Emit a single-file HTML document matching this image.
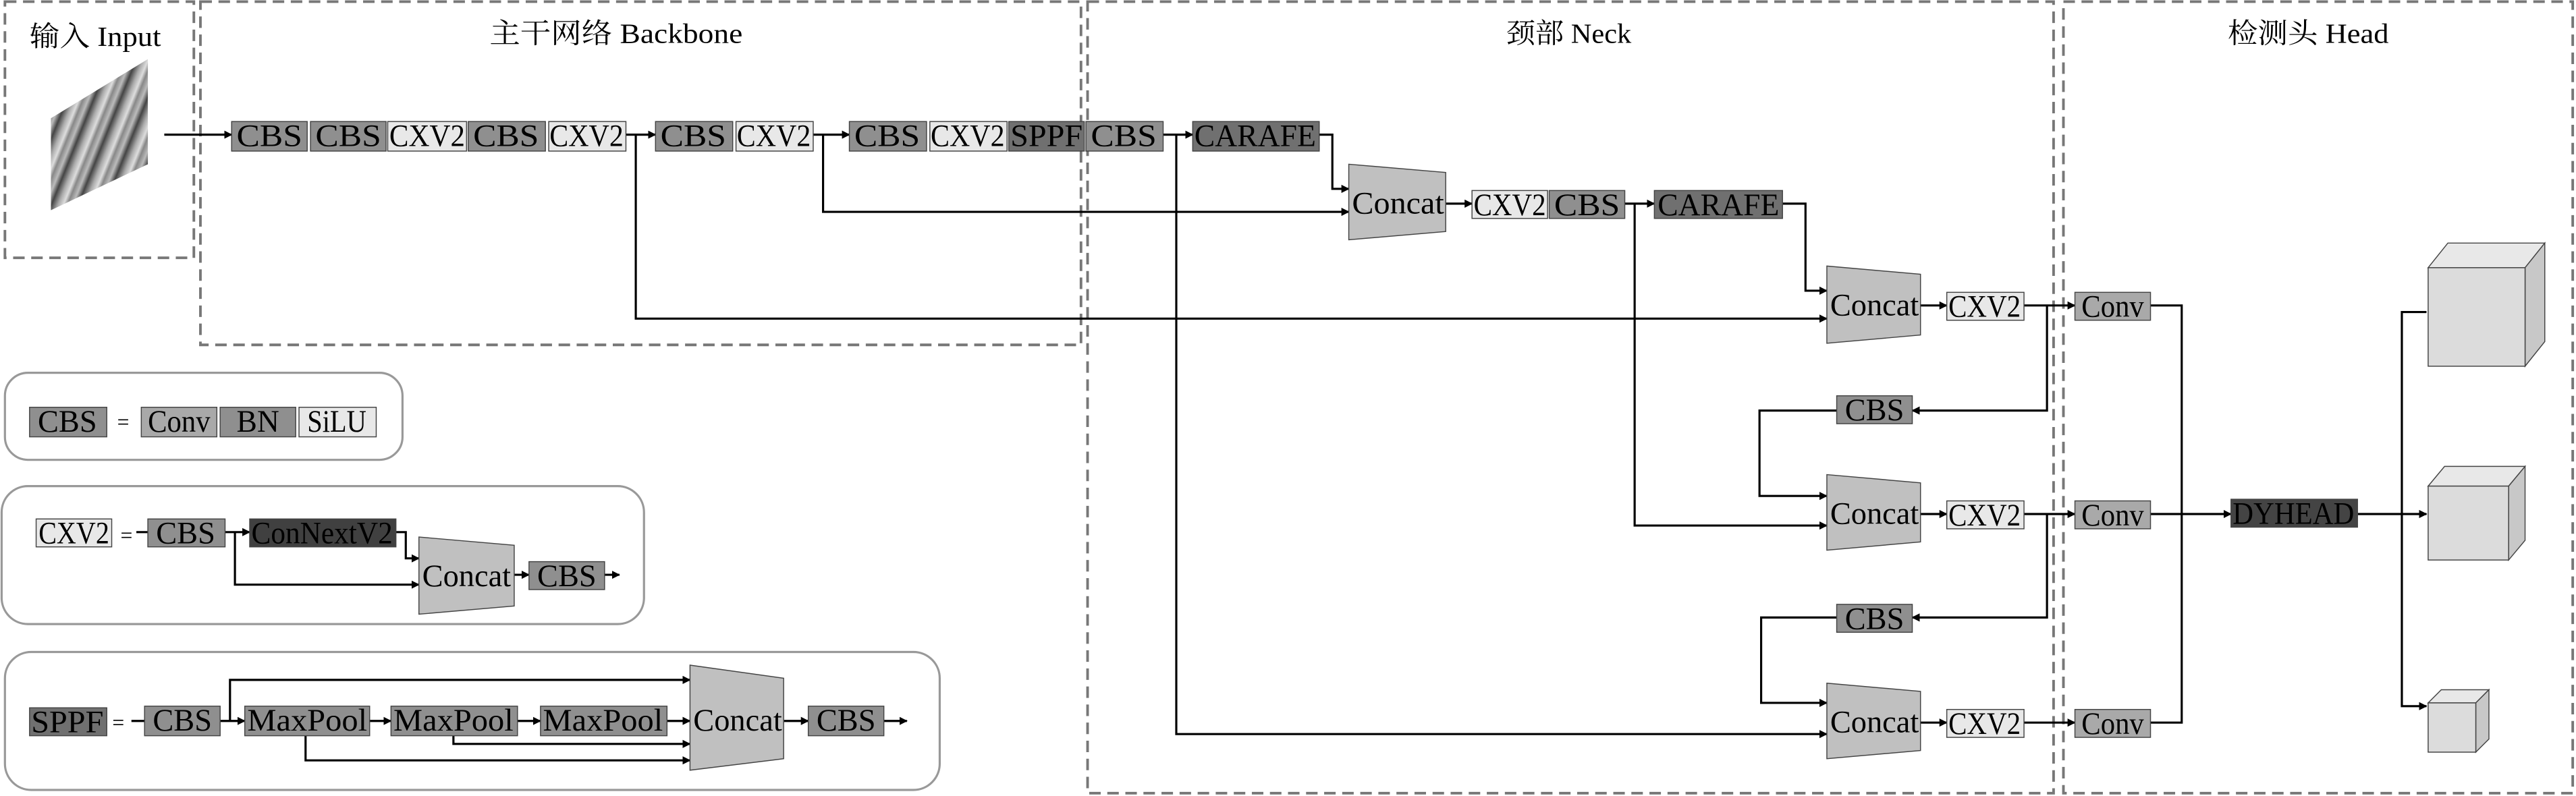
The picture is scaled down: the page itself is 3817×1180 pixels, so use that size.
<!DOCTYPE html>
<html><head><meta charset="utf-8"><style>html,body{margin:0;padding:0;background:#fff}svg{display:block}</style></head>
<body>
<svg width="3817" height="1180" viewBox="0 0 1568 484.7" preserveAspectRatio="none" xmlns="http://www.w3.org/2000/svg" font-family="'Liberation Serif','Noto Serif CJK SC',serif">
<defs>
<marker id="a" viewBox="0 0 10 10" refX="9" refY="5" markerWidth="5" markerHeight="5" orient="auto" markerUnits="userSpaceOnUse"><path d="M0,0L10,5L0,10z" fill="#000"/></marker>
<linearGradient id="tex" x1="0" y1="0" x2="1" y2="0.4" spreadMethod="repeat" gradientUnits="userSpaceOnUse" gradientTransform="scale(14)">
<stop offset="0" stop-color="#444"/><stop offset="0.25" stop-color="#aaa"/><stop offset="0.45" stop-color="#ddd"/><stop offset="0.6" stop-color="#888"/><stop offset="0.8" stop-color="#bbb"/><stop offset="1" stop-color="#444"/></linearGradient>
</defs>
<style>
.d{fill:none;stroke:#777;stroke-width:1.6;stroke-dasharray:7 4}
.l{fill:none;stroke:#000;stroke-width:1.3}
.la{fill:none;stroke:#000;stroke-width:1.3;marker-end:url(#a)}
.b{stroke:#444;stroke-width:0.6}
.t{font-size:19px;text-anchor:middle;dominant-baseline:central}
.h{font-size:17px;text-anchor:middle}
</style>
<rect class="d" x="3" y="1" width="115" height="156"/>
<rect class="d" x="122" y="1" width="536" height="209"/>
<rect class="d" x="662" y="1" width="588" height="482"/>
<rect class="d" x="1256" y="1" width="310" height="482"/>
<text class="h" x="58" y="28" textLength="80" lengthAdjust="spacingAndGlyphs">输入 Input</text>
<text class="h" x="375" y="26" textLength="154" lengthAdjust="spacingAndGlyphs">主干网络  Backbone</text>
<text class="h" x="955" y="26" textLength="76" lengthAdjust="spacingAndGlyphs">颈部 Neck</text>
<text class="h" x="1405" y="26" textLength="98" lengthAdjust="spacingAndGlyphs">检测头 Head</text>
<polygon points="31,72 90,36 90,100 31,128" fill="url(#tex)"/>
<line class="la" x1="100" y1="82" x2="141" y2="82"/>
<line class="la" x1="381" y1="82" x2="399" y2="82"/>
<line class="la" x1="495" y1="82" x2="517" y2="82"/>
<line class="la" x1="708" y1="82" x2="726" y2="82"/>
<polyline class="la" points="387,82 387,194 1112,194"/>
<polyline class="la" points="501,82 501,129 821,129"/>
<polyline class="la" points="716,82 716,447 1112,447"/>
<polyline class="la" points="803,82 811,82 811,115 821,115"/>
<line class="la" x1="880" y1="124" x2="896" y2="124"/>
<line class="la" x1="989" y1="124" x2="1007" y2="124"/>
<polyline class="la" points="1085,124 1099,124 1099,177 1112,177"/>
<polyline class="la" points="995,124 995,320 1112,320"/>
<line class="la" x1="1169" y1="186" x2="1185" y2="186"/>
<line class="la" x1="1169" y1="313" x2="1185" y2="313"/>
<line class="la" x1="1169" y1="440" x2="1185" y2="440"/>
<line class="la" x1="1232" y1="186" x2="1263" y2="186"/>
<line class="la" x1="1232" y1="313" x2="1263" y2="313"/>
<line class="la" x1="1232" y1="440" x2="1263" y2="440"/>
<polyline class="la" points="1246,186 1246,250 1164,250"/>
<polyline class="la" points="1246,313 1246,376 1164,376"/>
<polyline class="la" points="1118,250 1071,250 1071,302 1112,302"/>
<polyline class="la" points="1118,376 1072,376 1072,428 1112,428"/>
<polyline class="l" points="1309,186 1328,186 1328,440 1309,440"/>
<line class="la" x1="1309" y1="313" x2="1358" y2="313"/>
<line class="la" x1="1435" y1="313" x2="1477" y2="313"/>
<polyline class="la" points="1477,190 1462,190 1462,430 1477,430"/>
<g class="b">
<rect x="141" y="74" width="46" height="18" fill="#8f8f8f"/>
<rect x="189" y="74" width="46" height="18" fill="#8f8f8f"/>
<rect x="236" y="74" width="48" height="18" fill="#e8e8e8"/>
<rect x="285" y="74" width="47" height="18" fill="#8f8f8f"/>
<rect x="334" y="74" width="47" height="18" fill="#e8e8e8"/>
<rect x="399" y="74" width="47" height="18" fill="#8f8f8f"/>
<rect x="448" y="74" width="47" height="18" fill="#e8e8e8"/>
<rect x="517" y="74" width="47" height="18" fill="#8f8f8f"/>
<rect x="566" y="74" width="47" height="18" fill="#e8e8e8"/>
<rect x="614" y="74" width="46" height="18" fill="#707070"/>
<rect x="661" y="74" width="47" height="18" fill="#8f8f8f"/>
<rect x="726" y="74" width="77" height="18" fill="#707070"/>
<polygon points="821,100 880,105 880,141 821,146" fill="#c0c0c0"/>
<rect x="896" y="116" width="46" height="17" fill="#e8e8e8"/>
<rect x="943" y="116" width="46" height="17" fill="#8f8f8f"/>
<rect x="1007" y="116" width="78" height="17" fill="#707070"/>
<polygon points="1112,162 1169,167 1169,204 1112,209" fill="#c0c0c0"/>
<polygon points="1112,289 1169,294 1169,330 1112,335" fill="#c0c0c0"/>
<polygon points="1112,416 1169,421 1169,457 1112,462" fill="#c0c0c0"/>
<rect x="1185" y="178" width="47" height="17" fill="#e8e8e8"/>
<rect x="1185" y="305" width="47" height="17" fill="#e8e8e8"/>
<rect x="1185" y="432" width="47" height="17" fill="#e8e8e8"/>
<rect x="1118" y="241" width="46" height="17" fill="#8f8f8f"/>
<rect x="1118" y="368" width="46" height="17" fill="#8f8f8f"/>
<rect x="1263" y="178" width="46" height="17" fill="#a9a9a9"/>
<rect x="1263" y="305" width="46" height="17" fill="#a9a9a9"/>
<rect x="1263" y="432" width="46" height="17" fill="#a9a9a9"/>
<rect x="1358" y="304" width="77" height="17" fill="#444"/>
</g>
<g class="t" lengthAdjust="spacingAndGlyphs">
<text x="164" y="83" textLength="40" lengthAdjust="spacingAndGlyphs">CBS</text>
<text x="212" y="83" textLength="40" lengthAdjust="spacingAndGlyphs">CBS</text>
<text x="260" y="83" textLength="46" lengthAdjust="spacingAndGlyphs">CXV2</text>
<text x="308" y="83" textLength="40" lengthAdjust="spacingAndGlyphs">CBS</text>
<text x="357" y="83" textLength="45" lengthAdjust="spacingAndGlyphs">CXV2</text>
<text x="422" y="83" textLength="40" lengthAdjust="spacingAndGlyphs">CBS</text>
<text x="471" y="83" textLength="45" lengthAdjust="spacingAndGlyphs">CXV2</text>
<text x="540" y="83" textLength="40" lengthAdjust="spacingAndGlyphs">CBS</text>
<text x="589" y="83" textLength="45" lengthAdjust="spacingAndGlyphs">CXV2</text>
<text x="637" y="83" textLength="44" lengthAdjust="spacingAndGlyphs">SPPF</text>
<text x="684" y="83" textLength="40" lengthAdjust="spacingAndGlyphs">CBS</text>
<text x="764" y="83" textLength="74" lengthAdjust="spacingAndGlyphs">CARAFE</text>
<text x="851" y="124" textLength="56" lengthAdjust="spacingAndGlyphs">Concat</text>
<text x="919" y="125" textLength="44" lengthAdjust="spacingAndGlyphs">CXV2</text>
<text x="966" y="125" textLength="40" lengthAdjust="spacingAndGlyphs">CBS</text>
<text x="1046" y="125" textLength="74" lengthAdjust="spacingAndGlyphs">CARAFE</text>
<text x="1141" y="186" textLength="54" lengthAdjust="spacingAndGlyphs">Concat</text>
<text x="1141" y="313" textLength="54" lengthAdjust="spacingAndGlyphs">Concat</text>
<text x="1141" y="440" textLength="54" lengthAdjust="spacingAndGlyphs">Concat</text>
<text x="1208" y="187" textLength="44" lengthAdjust="spacingAndGlyphs">CXV2</text>
<text x="1208" y="314" textLength="44" lengthAdjust="spacingAndGlyphs">CXV2</text>
<text x="1208" y="441" textLength="44" lengthAdjust="spacingAndGlyphs">CXV2</text>
<text x="1141" y="250" textLength="36" lengthAdjust="spacingAndGlyphs">CBS</text>
<text x="1141" y="377" textLength="36" lengthAdjust="spacingAndGlyphs">CBS</text>
<text x="1286" y="187" textLength="38" lengthAdjust="spacingAndGlyphs">Conv</text>
<text x="1286" y="314" textLength="38" lengthAdjust="spacingAndGlyphs">Conv</text>
<text x="1286" y="441" textLength="38" lengthAdjust="spacingAndGlyphs">Conv</text>
<text x="1396" y="313" textLength="74" lengthAdjust="spacingAndGlyphs">DYHEAD</text>
</g>
<g class="b">
<polygon points="1478,163 1490,148 1549,148 1537,163" fill="#e8e8e8"/>
<polygon points="1537,163 1549,148 1549,208 1537,223" fill="#c8c8c8"/>
<rect x="1478" y="163" width="59" height="60" fill="#dcdcdc"/>
<polygon points="1478,296 1488,284 1537,284 1527,296" fill="#e8e8e8"/>
<polygon points="1527,296 1537,284 1537,329 1527,341" fill="#c8c8c8"/>
<rect x="1478" y="296" width="49" height="45" fill="#dcdcdc"/>
<polygon points="1478,428 1486,420 1515,420 1507,428" fill="#e8e8e8"/>
<polygon points="1507,428 1515,420 1515,450 1507,458" fill="#c8c8c8"/>
<rect x="1478" y="428" width="29" height="30" fill="#dcdcdc"/>
</g>
<rect x="3" y="227" width="242" height="53" rx="14" fill="none" stroke="#999" stroke-width="1.3"/>
<rect x="1" y="296" width="391" height="84" rx="16" fill="none" stroke="#999" stroke-width="1.3"/>
<rect x="3" y="397" width="569" height="84" rx="16" fill="none" stroke="#999" stroke-width="1.3"/>
<polyline class="la" points="137,324 152,324"/>
<polyline class="la" points="241,324 247,324 247,340 255,340"/>
<polyline class="la" points="143,324 143,356 255,356"/>
<line class="la" x1="313" y1="350" x2="322" y2="350"/>
<line class="la" x1="368" y1="350" x2="377" y2="350"/>
<line class="l" x1="83" y1="324" x2="90" y2="324"/>
<line class="l" x1="80" y1="439" x2="88" y2="439"/>
<line class="la" x1="134" y1="439" x2="149" y2="439"/>
<line class="la" x1="225" y1="439" x2="238" y2="439"/>
<line class="la" x1="315" y1="439" x2="329" y2="439"/>
<line class="la" x1="406" y1="439" x2="420" y2="439"/>
<line class="la" x1="477" y1="439" x2="492" y2="439"/>
<line class="la" x1="538" y1="439" x2="552" y2="439"/>
<polyline class="la" points="140,439 140,414 420,414"/>
<polyline class="la" points="186,448 186,463 420,463"/>
<polyline class="la" points="276,448 276,453 420,453"/>
<g class="b">
<rect x="18" y="248" width="47" height="18" fill="#8f8f8f"/>
<rect x="86" y="248" width="46" height="18" fill="#a9a9a9"/>
<rect x="134" y="248" width="46" height="18" fill="#8f8f8f"/>
<rect x="182" y="248" width="47" height="18" fill="#e8e8e8"/>
<rect x="22" y="316" width="46" height="17" fill="#e8e8e8"/>
<rect x="90" y="316" width="47" height="17" fill="#8f8f8f"/>
<rect x="152" y="316" width="89" height="17" fill="#404040"/>
<polygon points="255,327 313,332 313,369 255,374" fill="#c0c0c0"/>
<rect x="322" y="342" width="46" height="17" fill="#8f8f8f"/>
<rect x="18" y="431" width="47" height="17" fill="#707070"/>
<rect x="88" y="430" width="46" height="18" fill="#8f8f8f"/>
<rect x="149" y="430" width="76" height="18" fill="#8f8f8f"/>
<rect x="238" y="430" width="77" height="18" fill="#8f8f8f"/>
<rect x="329" y="430" width="77" height="18" fill="#8f8f8f"/>
<polygon points="420,405 477,413 477,462 420,469" fill="#c0c0c0"/>
<rect x="492" y="430" width="46" height="18" fill="#8f8f8f"/>
</g>
<g class="t">
<text x="41" y="257" textLength="36" lengthAdjust="spacingAndGlyphs">CBS</text><text x="75" y="257" font-size="13">=</text>
<text x="109" y="257" textLength="38" lengthAdjust="spacingAndGlyphs">Conv</text>
<text x="157" y="257" textLength="26" lengthAdjust="spacingAndGlyphs">BN</text>
<text x="205" y="257" textLength="36" lengthAdjust="spacingAndGlyphs">SiLU</text>
<text x="45" y="325" textLength="43" lengthAdjust="spacingAndGlyphs">CXV2</text><text x="77" y="326" font-size="13">=</text>
<text x="113" y="325" textLength="36" lengthAdjust="spacingAndGlyphs">CBS</text>
<text x="196" y="325" textLength="86" lengthAdjust="spacingAndGlyphs">ConNextV2</text>
<text x="284" y="351" textLength="54" lengthAdjust="spacingAndGlyphs">Concat</text>
<text x="345" y="351" textLength="36" lengthAdjust="spacingAndGlyphs">CBS</text>
<text x="41" y="440" textLength="44" lengthAdjust="spacingAndGlyphs">SPPF</text><text x="72" y="440" font-size="13">=</text>
<text x="111" y="439" textLength="36" lengthAdjust="spacingAndGlyphs">CBS</text>
<text x="187" y="439" textLength="73" lengthAdjust="spacingAndGlyphs">MaxPool</text>
<text x="276" y="439" textLength="73" lengthAdjust="spacingAndGlyphs">MaxPool</text>
<text x="367" y="439" textLength="73" lengthAdjust="spacingAndGlyphs">MaxPool</text>
<text x="449" y="439" textLength="54" lengthAdjust="spacingAndGlyphs">Concat</text>
<text x="515" y="439" textLength="36" lengthAdjust="spacingAndGlyphs">CBS</text>
</g>
</svg>
</body></html>
